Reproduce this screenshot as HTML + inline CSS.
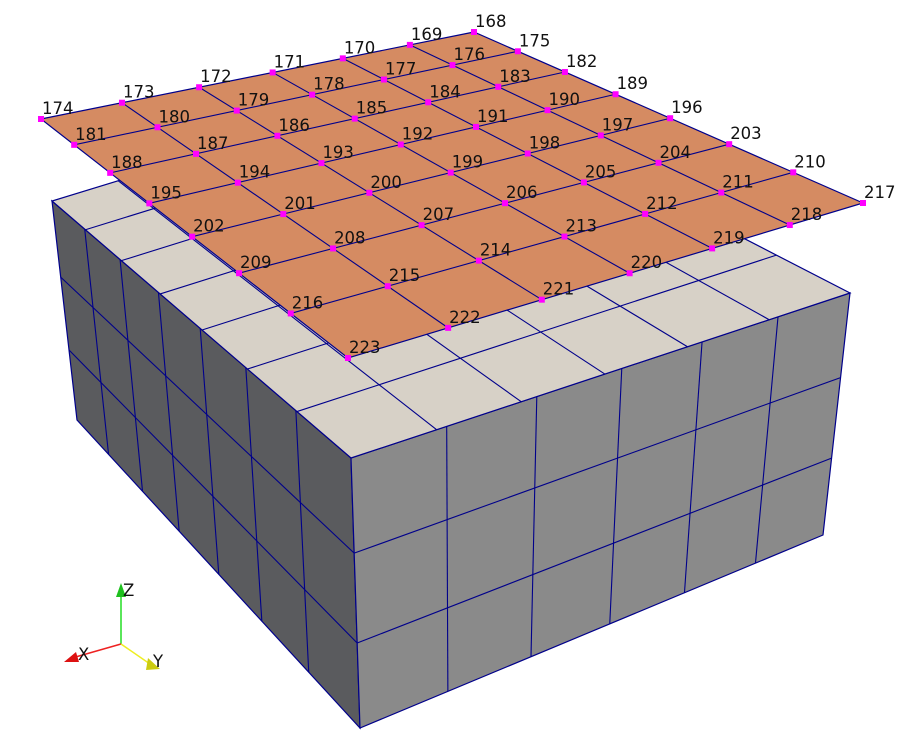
<!DOCTYPE html>
<html><head><meta charset="utf-8">
<style>
html,body{margin:0;padding:0;background:#fff;}
svg{display:block;}
text{font-family:"DejaVu Sans","Liberation Sans",sans-serif;font-size:16.5px;fill:#111;}
</style></head>
<body>
<svg id="scene" width="907" height="744" viewBox="0 0 907 744" xmlns="http://www.w3.org/2000/svg">
<g id="box"></g>
<g id="plate"></g>
<g id="labels"></g>
<g id="triad">
  <line x1="121" y1="644" x2="121" y2="592" stroke="#22dd22" stroke-width="1.5"/>
  <polygon points="116,597 121,583 126,597" fill="#1ec01e"/>
  <text x="123" y="596">Z</text>
  <line x1="121" y1="644" x2="72" y2="658" stroke="#ee2222" stroke-width="1.5"/>
  <polygon points="64,662 76,652 79,662" fill="#dd1111"/>
  <text x="78" y="660">X</text>
  <line x1="121" y1="644" x2="150" y2="664" stroke="#eeee22" stroke-width="1.5"/>
  <polygon points="148,658 160,669 146,670" fill="#cccc11"/>
  <text x="153" y="667">Y</text>
</g>
</svg>
<script>
// plate grid: nodes 168.. ; i along first edge (7 nodes), j along second (8 nodes)
const firstNode = 168;
const nodesI = 7;
const nodesJ = 8;
const plateCorners = [[474,32],[41,119],[348,358],[863,203]];
const leftFace = {corners:[[52,201],[351,458],[360,728],[77,420]], cols:7, rows:3, fill:'#5a5b5e'};
const rightFace = {corners:[[351,458],[850,293],[823,535],[360,728]], cols:6, rows:3, fill:'#8a8a8a'};
const topFace = {corners:[[52,201],[351,458],[850,293],[440,82]], cols:7, rows:6, fill:'#d7d1c7'};
const NS='http://www.w3.org/2000/svg';
function hom(q){
  const [x0,y0]=q[0],[x1,y1]=q[1],[x2,y2]=q[2],[x3,y3]=q[3];
  const dx1=x1-x2,dx2=x3-x2,dx3=x0-x1+x2-x3,dy1=y1-y2,dy2=y3-y2,dy3=y0-y1+y2-y3;
  const den=dx1*dy2-dy1*dx2;
  const g=(dx3*dy2-dy3*dx2)/den,h=(dx1*dy3-dy1*dx3)/den;
  const a=x1-x0+g*x1,b=x3-x0+h*x3,d=y1-y0+g*y1,e=y3-y0+h*y3;
  return (u,v)=>{const w=g*u+h*v+1;return [(a*u+b*v+x0)/w,(d*u+e*v+y0)/w];};
}
function el(tag,attrs,parent){const e=document.createElementNS(NS,tag);for(const k in attrs)e.setAttribute(k,attrs[k]);parent.appendChild(e);return e;}
function face(f,name,parent){
  const H=hom(f.corners);
  const poly=el('polygon',{points:f.corners.map(p=>p.join(',')).join(' '),fill:f.fill,stroke:'#00008b','stroke-width':1.2},parent);
  
  
  for(let c=1;c<f.cols;c++){const a=H(c/f.cols,0),b=H(c/f.cols,1);
    const l=el('line',{x1:a[0],y1:a[1],x2:b[0],y2:b[1],stroke:'#00008b','stroke-width':1.1},parent);
    
    }
  for(let r=1;r<f.rows;r++){const a=H(0,r/f.rows),b=H(1,r/f.rows);
    const l=el('line',{x1:a[0],y1:a[1],x2:b[0],y2:b[1],stroke:'#00008b','stroke-width':1.1},parent);
    
    }
}
const box=document.getElementById('box');
face(leftFace,'left-face',box);
face(rightFace,'right-face',box);
face(topFace,'top-face',box);
// plate
const plate=document.getElementById('plate');
const PH=hom(plateCorners);
const pp=el('polygon',{points:plateCorners.map(p=>p.join(',')).join(' '),fill:'#d58b62',stroke:'#00008b','stroke-width':1.2},plate);


for(let i=1;i<nodesI-1;i++){const a=PH(i/(nodesI-1),0),b=PH(i/(nodesI-1),1);
  const l=el('line',{x1:a[0],y1:a[1],x2:b[0],y2:b[1],stroke:'#00008b','stroke-width':1.1},plate);
  
  }
for(let j=1;j<nodesJ-1;j++){const a=PH(0,j/(nodesJ-1)),b=PH(1,j/(nodesJ-1));
  const l=el('line',{x1:a[0],y1:a[1],x2:b[0],y2:b[1],stroke:'#00008b','stroke-width':1.1},plate);
  
  }
const labels=document.getElementById('labels');
for(let j=0;j<nodesJ;j++)for(let i=0;i<nodesI;i++){
  const p=PH(i/(nodesI-1),j/(nodesJ-1));
  const id=firstNode+i+nodesI*j;
  const r=el('rect',{x:p[0]-3,y:p[1]-3,width:6,height:6,fill:'#ff00ff'},labels);
  
  
  const t=el('text',{x:p[0]+1,y:p[1]-5},labels);
  
  
  t.textContent=id;
}
</script>
</body></html>
